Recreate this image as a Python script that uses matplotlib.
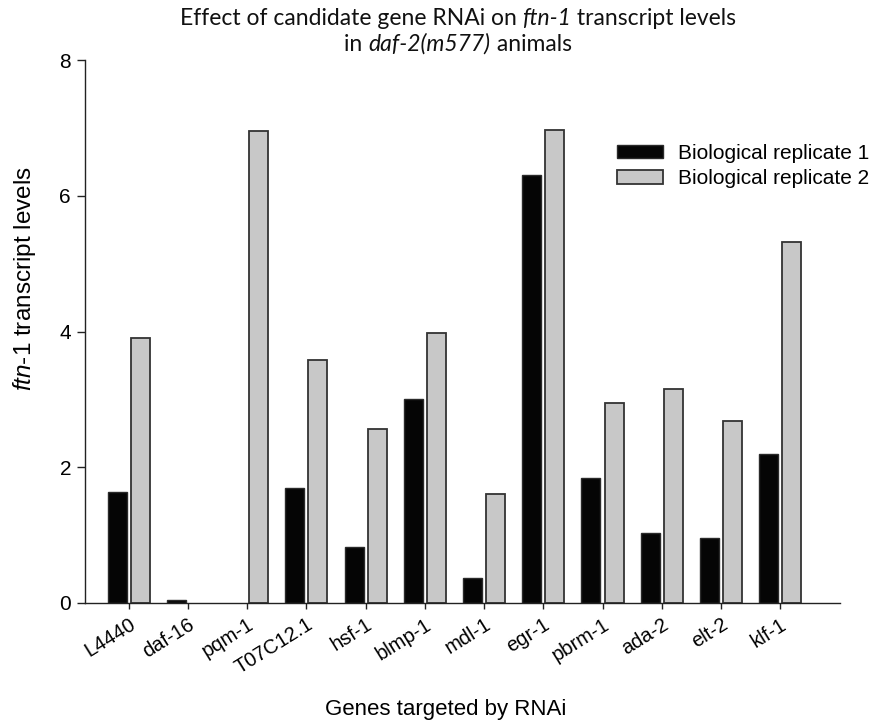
import matplotlib
matplotlib.use('Agg')
import matplotlib.pyplot as plt
import numpy as np
from matplotlib.offsetbox import TextArea, HPacker, VPacker, AnnotationBbox

genes = ['L4440', 'daf-16', 'pqm-1', 'T07C12.1', 'hsf-1', 'blmp-1',
         'mdl-1', 'egr-1', 'pbrm-1', 'ada-2', 'elt-2', 'klf-1']
rep1 = [1.63, 0.05, 0.0, 1.70, 0.82, 3.00, 0.37, 6.31, 1.84, 1.03, 0.96, 2.20]
rep2 = [3.91, 0.0, 6.95, 3.58, 2.57, 3.98, 1.61, 6.97, 2.95, 3.15, 2.68, 5.32]
series_names = ['Biological replicate 1', 'Biological replicate 2']

plt.rcParams['font.family'] = ['Liberation Sans', 'DejaVu Sans']
plt.rcParams['mathtext.fontset'] = 'custom'
plt.rcParams['mathtext.rm'] = 'Liberation Sans'
plt.rcParams['mathtext.it'] = 'Liberation Sans:italic'

fig = plt.figure(figsize=(8.75, 7.24), dpi=100)
ax = fig.add_axes([85 / 875, 1 - 603 / 724, 755 / 875, 543 / 724])

x = np.arange(len(genes))
w = 0.32
off = 0.195
# no outline on empty bars so nothing shows along the baseline
lw1 = [1.0 if v > 0 else 0 for v in rep1]
lw2 = [1.3 if v > 0 else 0 for v in rep2]
ax.bar(x - off, rep1, w, color='#050505', edgecolor='#2a2a2a', linewidth=lw1,
       label=series_names[0])
ax.bar(x + off, rep2, w, color='#c8c8c8', edgecolor='#333333', linewidth=lw2,
       label=series_names[1])

ax.set_xlim(-0.738, 12.01)
ax.set_ylim(0, 8)
ax.set_yticks([0, 2, 4, 6, 8])
ax.set_xticks(x)
ax.set_xticklabels(genes, rotation=32, ha='right', va='top',
                   rotation_mode='anchor', fontsize=14.5)
ax.tick_params(axis='y', direction='out', length=6, width=1.0, labelsize=15,
               pad=4, color='#222222')
ax.tick_params(axis='x', direction='out', length=4.5, width=1.0, pad=4,
               color='#222222')
for s in ['top', 'right']:
    ax.spines[s].set_visible(False)
for s in ['left', 'bottom']:
    ax.spines[s].set_linewidth(1.0)
    ax.spines[s].set_color('#222222')

ax.legend(loc='upper left', bbox_to_anchor=(617 / 875, 1 - 144 / 724),
          bbox_transform=fig.transFigure, frameon=False, fontsize=15,
          handlelength=2.2, handleheight=0.63, handletextpad=0.72,
          labelspacing=0.3, borderpad=0, borderaxespad=0)

fig.text(446 / 875, 1 - 710 / 724, 'Genes targeted by RNAi', ha='center',
         va='center', fontsize=16)
fig.text(25 / 875, 1 - 279 / 724, r'$\mathit{ftn}$-$\mathit{1}$ transcript levels',
         rotation=90, ha='center', va='center', fontsize=17.5)

# two-line title with italic gene names
tp = dict(family='Lato', size=16.5, color='#111111')
tpi = dict(tp, style='italic')
line1 = HPacker(children=[TextArea('Effect of candidate gene RNAi on ', textprops=tp),
                          TextArea('ftn-1', textprops=tpi),
                          TextArea(' transcript levels', textprops=tp)],
                align='baseline', pad=0, sep=0)
line2 = HPacker(children=[TextArea('in ', textprops=tp),
                          TextArea('daf-2(m577)', textprops=tpi),
                          TextArea(' animals', textprops=tp)],
                align='baseline', pad=0, sep=0)
title = VPacker(children=[line1, line2], align='center', pad=0, sep=3)
fig.add_artist(AnnotationBbox(title, (458 / 875, 1 - 8 / 724),
                              xycoords='figure fraction', box_alignment=(0.5, 1),
                              frameon=False, pad=0))

fig.savefig('out.png', dpi=100)
